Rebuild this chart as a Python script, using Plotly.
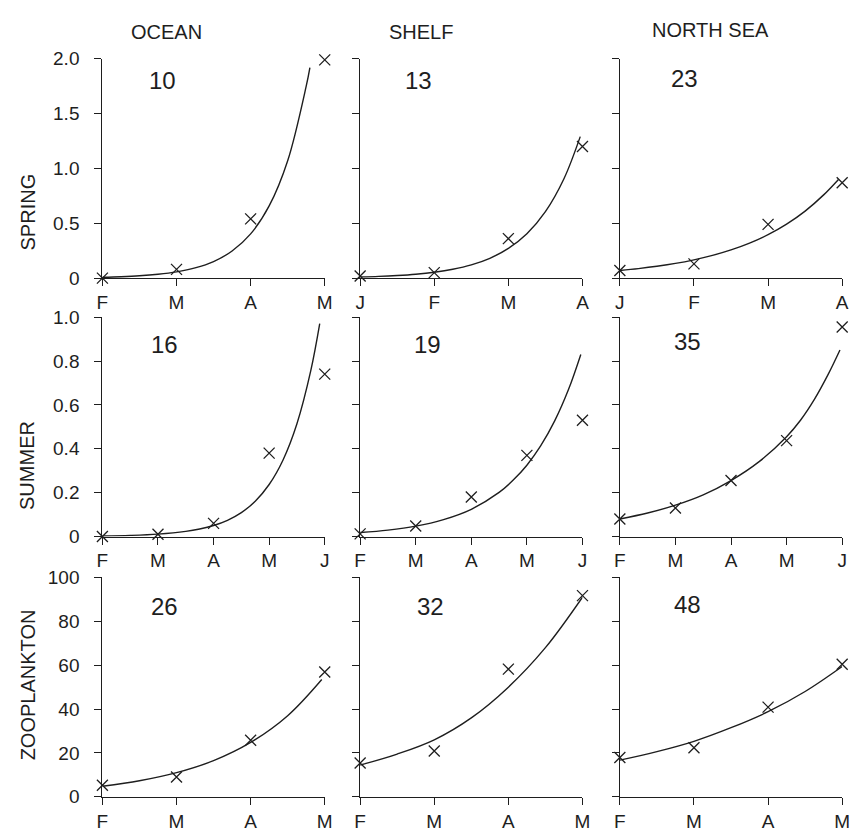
import plotly.graph_objects as go

# ---------------- data ----------------
col_titles = ["OCEAN", "SHELF", "NORTH SEA"]
row_titles = ["SPRING", "SUMMER", "ZOOPLANKTON"]
doubling_days = [["10", "13", "23"], ["16", "19", "35"], ["26", "32", "48"]]

months_spring = [["F", "M", "A", "M"], ["J", "F", "M", "A"], ["J", "F", "M", "A"]]
months_summer = [["F", "M", "A", "M", "J"], ["F", "M", "A", "M", "J"], ["F", "M", "A", "M", "J"]]
months_zoo = [["F", "M", "A", "M"], ["F", "M", "A", "M"], ["F", "M", "A", "M"]]

yticks_spring = [0, 0.5, 1.0, 1.5, 2.0]
yticktext_spring = ["0", "0.5", "1.0", "1.5", "2.0"]
yticks_summer = [0, 0.2, 0.4, 0.6, 0.8, 1.0]
yticktext_summer = ["0", "0.2", "0.4", "0.6", "0.8", "1.0"]
yticks_zoo = [0, 20, 40, 60, 80, 100]
yticktext_zoo = ["0", "20", "40", "60", "80", "100"]

# observed values (crosses), one per month tick
ocean_spring_obs = [0.0, 0.08, 0.54, 1.99]
shelf_spring_obs = [0.02, 0.05, 0.36, 1.20]
north_spring_obs = [0.07, 0.13, 0.49, 0.87]
ocean_summer_obs = [0.0, 0.01, 0.06, 0.38, 0.74]
shelf_summer_obs = [0.012, 0.048, 0.18, 0.37, 0.53]
north_summer_obs = [0.08, 0.13, 0.255, 0.437, 0.955]
ocean_zoo_obs = [5.3, 9.0, 25.8, 56.9]
shelf_zoo_obs = [15.4, 20.9, 58.2, 91.7]
north_zoo_obs = [17.9, 22.4, 40.9, 60.4]

# fitted curves (month position, value)
ocean_spring_fit_t = [0, 0.25, 0.5, 0.75, 1, 1.25, 1.5, 1.75, 2, 2.25, 2.5, 2.75, 2.8]
ocean_spring_fit = [0.008, 0.013, 0.021, 0.035, 0.057, 0.093, 0.151, 0.247, 0.403, 0.658, 1.07, 1.75, 1.92]
shelf_spring_fit_t = [0, 0.25, 0.5, 0.75, 1, 1.25, 1.5, 1.75, 2, 2.25, 2.5, 2.75, 2.97]
shelf_spring_fit = [0.011, 0.016, 0.024, 0.036, 0.054, 0.081, 0.121, 0.181, 0.271, 0.405, 0.606, 0.906, 1.29]
north_spring_fit_t = [0, 0.25, 0.5, 0.75, 1, 1.25, 1.5, 1.75, 2, 2.25, 2.5, 2.75, 2.95]
north_spring_fit = [0.07, 0.087, 0.108, 0.134, 0.167, 0.207, 0.257, 0.319, 0.396, 0.492, 0.611, 0.759, 0.90]
ocean_summer_fit_t = [0, 0.5, 1, 1.5, 1.75, 2, 2.25, 2.5, 2.75, 3, 3.25, 3.5, 3.75, 3.91]
ocean_summer_fit = [0.0023, 0.0049, 0.0107, 0.0232, 0.0342, 0.0503, 0.074, 0.109, 0.161, 0.237, 0.349, 0.514, 0.757, 0.97]
shelf_summer_fit_t = [0, 0.5, 1, 1.5, 2, 2.5, 2.75, 3, 3.25, 3.5, 3.75, 3.97]
shelf_summer_fit = [0.018, 0.029, 0.047, 0.077, 0.124, 0.201, 0.256, 0.325, 0.414, 0.527, 0.671, 0.83]
north_summer_fit_t = [0, 0.5, 1, 1.5, 2, 2.5, 3, 3.25, 3.5, 3.75, 3.96]
north_summer_fit = [0.08, 0.107, 0.143, 0.19, 0.255, 0.34, 0.455, 0.53, 0.625, 0.74, 0.85]
ocean_zoo_fit_t = [0, 0.5, 1, 1.5, 2, 2.5, 2.96]
ocean_zoo_fit = [4.8, 7.3, 11.0, 16.5, 24.8, 37.0, 53.5]
shelf_zoo_fit_t = [0, 0.5, 1, 1.5, 2, 2.5, 3]
shelf_zoo_fit = [14.5, 19.5, 26.0, 36.0, 50.0, 68.0, 91.0]
north_zoo_fit_t = [0, 0.5, 1, 1.5, 2, 2.5, 3]
north_zoo_fit = [16.7, 20.6, 25.3, 31.5, 38.8, 48.0, 59.4]

# ---------------- assembly ----------------
panels = [
    [(ocean_spring_obs, ocean_spring_fit_t, ocean_spring_fit),
     (shelf_spring_obs, shelf_spring_fit_t, shelf_spring_fit),
     (north_spring_obs, north_spring_fit_t, north_spring_fit)],
    [(ocean_summer_obs, ocean_summer_fit_t, ocean_summer_fit),
     (shelf_summer_obs, shelf_summer_fit_t, shelf_summer_fit),
     (north_summer_obs, north_summer_fit_t, north_summer_fit)],
    [(ocean_zoo_obs, ocean_zoo_fit_t, ocean_zoo_fit),
     (shelf_zoo_obs, shelf_zoo_fit_t, shelf_zoo_fit),
     (north_zoo_obs, north_zoo_fit_t, north_zoo_fit)],
]
month_rows = [months_spring, months_summer, months_zoo]
ytick_rows = [(yticks_spring, yticktext_spring), (yticks_summer, yticktext_summer),
              (yticks_zoo, yticktext_zoo)]

W, H = 861, 840
col_px = [(98, 324), (360, 586), (624, 850)]
row_px = [(50, 275), (315, 540), (582, 807)]

FONT = "Liberation Sans, Arial, Helvetica, sans-serif"
INK = "#1e1e1e"

fig = go.Figure()
layout = dict(
    width=W, height=H, margin=dict(l=0, r=0, t=0, b=0),
    paper_bgcolor="white", plot_bgcolor="white", showlegend=False,
    font=dict(family=FONT, color=INK, size=19),
)
annotations = []

for r in range(3):
    for c in range(3):
        i = r * 3 + c + 1
        sfx = "" if i == 1 else str(i)
        obs, ft, fy = panels[r][c]
        months = month_rows[r][c]
        yv, yt = ytick_rows[r]
        xpos = list(range(len(months)))
        fig.add_trace(go.Scatter(
            x=ft, y=fy, mode="lines", line=dict(color=INK, width=1.4, shape="spline", smoothing=1.0),
            xaxis="x" + sfx, yaxis="y" + sfx, cliponaxis=False, hoverinfo="skip"))
        fig.add_trace(go.Scatter(
            x=xpos, y=obs, mode="markers",
            marker=dict(symbol="x-thin", size=11, line=dict(color=INK, width=1.3)),
            xaxis="x" + sfx, yaxis="y" + sfx, cliponaxis=False, hoverinfo="skip"))
        x0, x1 = col_px[c]
        y0, y1 = row_px[r]
        layout["xaxis" + sfx] = dict(
            domain=[x0 / W, x1 / W], anchor="y" + sfx, range=[0, len(months) - 1],
            tickvals=xpos, ticktext=months, ticks="outside", ticklen=7, tickwidth=1.2,
            tickcolor=INK, showline=True, linecolor=INK, linewidth=1.3,
            showgrid=False, zeroline=False, fixedrange=True, ticklabelstandoff=0,
            tickfont=dict(size=19, family=FONT, color=INK))
        layout["yaxis" + sfx] = dict(
            domain=[1 - y1 / H, 1 - y0 / H], anchor="x" + sfx, range=[0, yv[-1]],
            tickvals=yv, ticktext=yt if c == 0 else [""] * len(yv),
            ticks="outside", ticklen=7, tickwidth=1.2, tickcolor=INK,
            showline=True, linecolor=INK, linewidth=1.3, showgrid=False, zeroline=False,
            fixedrange=True, ticklabelstandoff=11,
            tickfont=dict(size=19, family=FONT, color=INK))

# column titles
col_title_px = [(163, 23), (422, 23), (716, 20)]
for t, (px, py) in zip(col_titles, col_title_px):
    annotations.append(dict(text=t, x=px / W, y=1 - py / H, xref="paper", yref="paper",
                            showarrow=False, xanchor="center", yanchor="middle",
                            font=dict(size=20, family=FONT, color=INK)))
# row titles
row_title_px = [(22, 207), (22, 467), (22, 692)]
for t, (px, py) in zip(row_titles, row_title_px):
    annotations.append(dict(text=t, x=px / W, y=1 - py / H, xref="paper", yref="paper",
                            showarrow=False, xanchor="center", yanchor="middle", textangle=-90,
                            font=dict(size=20, family=FONT, color=INK)))
# panel numbers
num_px = [[(159, 72), (419, 72), (690, 70)],
          [(161, 343), (428, 343), (693, 340)],
          [(161, 612), (432, 612), (693, 610)]]
for r in range(3):
    for c in range(3):
        px, py = num_px[r][c]
        annotations.append(dict(text=doubling_days[r][c], x=px / W, y=1 - py / H,
                                xref="paper", yref="paper", showarrow=False,
                                xanchor="center", yanchor="middle",
                                font=dict(size=24, family=FONT, color=INK)))

layout["annotations"] = annotations
fig.update_layout(**layout)
fig.write_html("out.html")
